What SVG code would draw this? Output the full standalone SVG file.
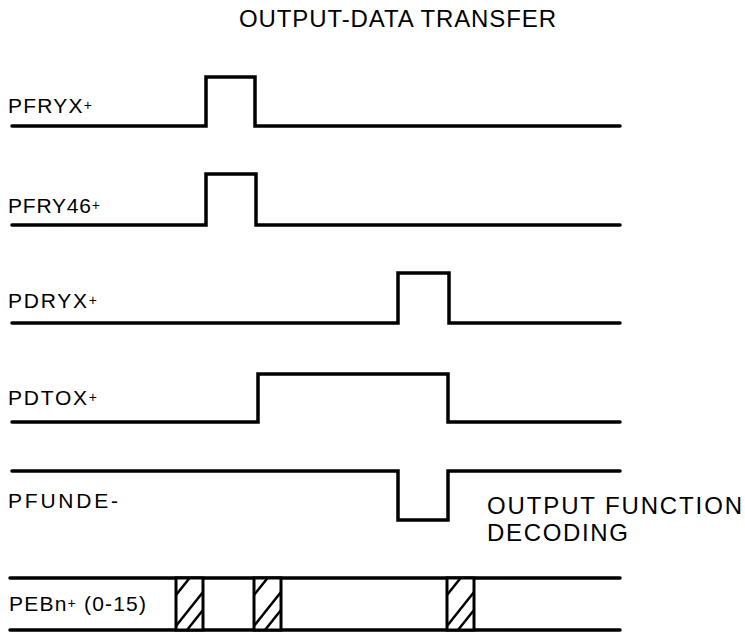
<svg xmlns="http://www.w3.org/2000/svg" width="745" height="636" viewBox="0 0 745 636">
<style>
text{font-family:"Liberation Sans",Arial,sans-serif;fill:#000}
.lbl{font-size:21px}
.ttl{font-size:24px}
.sig{fill:none;stroke:#000;stroke-width:3.5;stroke-linejoin:miter;stroke-linecap:round}
.pl{font-size:14px}
.box{fill:#fff;stroke:#000;stroke-width:3}
.hatch{stroke:#000;stroke-width:2.5;stroke-linecap:butt}
</style>
<defs>
<g id="hbox">
<rect class="box" x="0" y="0" width="27" height="52"/>
<line class="hatch" x1="0" y1="17" x2="13.6" y2="0"/>
<line class="hatch" x1="0" y1="48" x2="27" y2="14"/>
<line class="hatch" x1="11" y1="52" x2="27" y2="32"/>
</g>
</defs>
<rect width="745" height="636" fill="#fff"/>
<text id="title" class="ttl" x="239" y="27" textLength="317" lengthAdjust="spacing">OUTPUT-DATA TRANSFER</text>
<g id="labels">
<text id="l-pfryx" class="lbl" x="8" y="113" textLength="84" lengthAdjust="spacing">PFRYX<tspan class="pl" dy="-3">+</tspan></text>
<text id="l-pfry46" class="lbl" x="8" y="213" textLength="92" lengthAdjust="spacing">PFRY46<tspan class="pl" dy="-3">+</tspan></text>
<text id="l-pdryx" class="lbl" x="8" y="308" textLength="89" lengthAdjust="spacing">PDRYX<tspan class="pl" dy="-3">+</tspan></text>
<text id="l-pdtox" class="lbl" x="8" y="405" textLength="89" lengthAdjust="spacing">PDTOX<tspan class="pl" dy="-3">+</tspan></text>
<text id="l-pfunde" class="lbl" x="8" y="508" textLength="110" lengthAdjust="spacing">PFUNDE-</text>
<text id="l-pebn" class="lbl" x="9" y="611" textLength="137" lengthAdjust="spacing">PEBn<tspan class="pl" dy="-3">+</tspan><tspan dy="3"> (0-15)</tspan></text>
<text id="l-ofd" class="ttl" x="487" y="514" textLength="255" lengthAdjust="spacing">OUTPUT FUNCTION</text>
<text id="l-dec" class="ttl" x="487" y="541" textLength="141" lengthAdjust="spacing">DECODING</text>
</g>
<g id="signals">
<polyline id="s-pfryx" class="sig" points="12,126 206,126 206,77 255,77 255,126 620,126"/>
<polyline id="s-pfry46" class="sig" points="12,225 206,225 206,174 256,174 256,225 620,225"/>
<polyline id="s-pdryx" class="sig" points="12,323 398,323 398,273 449,273 449,323 620,323"/>
<polyline id="s-pdtox" class="sig" points="12,422 258,422 258,374 448,374 448,422 620,422"/>
<polyline id="s-pfunde" class="sig" points="12,471 398,471 398,520 448,520 448,471 620,471"/>
<line class="sig" x1="10" y1="578" x2="620" y2="578"/>
<line class="sig" x1="10" y1="630" x2="620" y2="630"/>
</g>
<g id="bus-transitions">
<use href="#hbox" x="176" y="578"/>
<use href="#hbox" x="254" y="578"/>
<use href="#hbox" x="447" y="578"/>
</g>
</svg>
